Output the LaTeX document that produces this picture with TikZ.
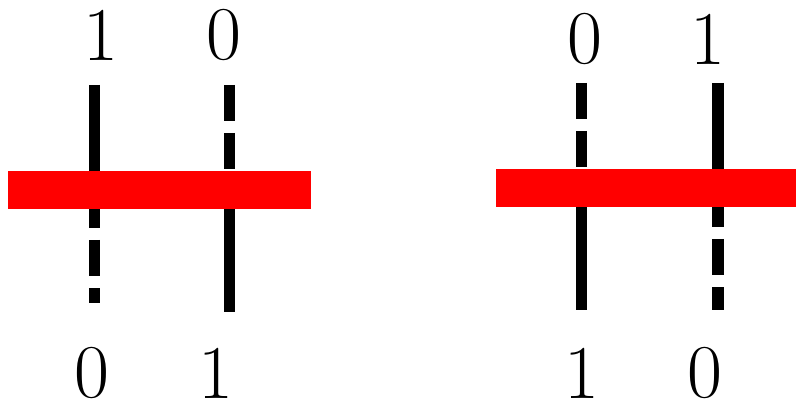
\documentclass[tikz,border=0pt]{standalone}
\begin{document}
\begin{tikzpicture}[x=1pt, y=-1pt,
    wire/.style={line width=11.5pt},
    dashwire/.style={wire, dash pattern=on 36pt off 12pt},
    bar/.style={fill=red},
    digit/.style={inner sep=0pt, font=\fontsize{76}{80}\selectfont}]
    \useasboundingbox (0, 0) rectangle (796, 401);

    % Left pair of wires
    \draw [wire] (94.5, 85) -- (94.5, 190);
    \draw [dashwire] (94.5, 192) -- (94.5, 303);
    \draw [dashwire] (229.5, 85) -- (229.5, 190);
    \draw [wire] (229.5, 190) -- (229.5, 312);

    % Right pair of wires
    \draw [dashwire] (581.5, 83) -- (581.5, 188);
    \draw [wire] (581.5, 188) -- (581.5, 310);
    \draw [wire] (718, 83) -- (718, 188);
    \draw [dashwire] (718, 191) -- (718, 310);

    % Red bars
    \fill [bar] (8, 171) rectangle (311, 209);
    \fill [bar] (496, 169) rectangle (796, 207);

    % Labels
    \node [digit] (lt1) at (101, 35) {1};
    \node [digit] (lt2) at (224, 35) {0};
    \node [digit] (lb1) at (92, 373) {0};
    \node [digit] (lb2) at (216, 373) {1};
    \node [digit] (rt1) at (585, 39) {0};
    \node [digit] (rt2) at (708, 39) {1};
    \node [digit] (rb1) at (582, 373) {1};
    \node [digit] (rb2) at (705, 373) {0};
\end{tikzpicture}
\end{document}
